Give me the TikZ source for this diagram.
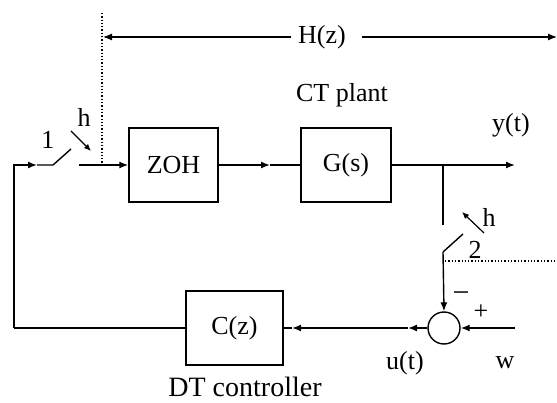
\documentclass[tikz,border=0pt]{standalone}
\usepackage{fontspec}
\setmainfont{Liberation Serif}
\usetikzlibrary{arrows.meta}

\begin{document}
\begin{tikzpicture}[x=1pt, y=-1pt, line width=1.4pt,
    >={Latex[length=9pt,width=7pt]},
    block/.style={draw, minimum width=#1, minimum height=74pt, inner sep=0pt, font=\fontsize{26}{30}\selectfont},
    lbl/.style={inner sep=0pt, font=\fontsize{26}{30}\selectfont},
    sumnode/.style={draw, circle, minimum size=32pt, inner sep=0pt}]

    % Fix the margins
    \useasboundingbox (0,0) rectangle (557,403);

    % Blocks
    \node[block=89pt] (zoh) at (173.5,165) {ZOH};
    \node[block=90pt] (plant) at (346,165) {G(s)};
    \node[block=97pt] (ctrl) at (234.5,328) {C(z)};
    \node[sumnode] (sum) at (444,328) {};

    % Corner points and switches
    \coordinate (bl) at (14,328);
    \coordinate (tl) at (14,165);
    \coordinate (sw1a) at (53,165);
    \coordinate (sw1b) at (71,149);
    \coordinate (sw1c) at (79,165);
    \coordinate (branch) at (443,165);
    \coordinate (yout) at (515,165);
    \coordinate (sw2a) at (443,225);
    \coordinate (sw2b) at (463,234);
    \coordinate (sw2c) at (443,252);
    \coordinate (win) at (515,328);

    % Feedback path to switch 1
    \draw (ctrl.west) -- (bl);
    \draw[->] (bl) -- (tl) -- (37,165);
    \draw (37,165) -- (sw1a) -- (sw1b);
    \draw[->] (sw1c) -- (zoh.west);
    \draw[->] (zoh.east) -- (270,165);
    \draw (270,165) -- (plant.west);

    % Output and sampler 2
    \draw[->] (plant.east) -- (yout);
    \draw (branch) -- (sw2a);
    \draw (sw2b) -- (sw2c);
    \draw[->] (sw2c) -- (sum.north);
    \draw[->] (win) -- (sum.east);
    \draw[->] (sum.west) -- (408,328);
    \draw[->] (408,328) -- (292,328);
    \draw (292,328) -- (ctrl.east);

    % Sampler arrows
    \draw[->, line width=1.2pt, >={Latex[length=7pt,width=6pt]}] (71,131) -- (91,151);
    \draw[->, line width=1.2pt, >={Latex[length=7pt,width=6pt]}] (484,233) -- (462,212);

    % Dotted borders of H(z)
    \draw[dotted, line width=1.3pt] (102,13) -- (102,165);
    \draw[dotted, line width=1.3pt] (445,261) -- (557,261);

    % H(z) span
    \node[lbl] (hz) at (322,37) {H(z)};
    \draw[->, line width=1.2pt] (hz.west) ++(-6,0) -- (103,37);
    \draw[->, line width=1.2pt] (362,37) -- (557,37);

    % Labels
    \node[lbl] (one) at (48,140) {1};
    \node[lbl] (h1) at (84,117) {h};
    \node[lbl] (plantlbl) at (342,95) {CT plant};
    \node[lbl] (ylbl) at (511,125) {y(t)};
    \node[lbl] (h2) at (489,217) {h};
    \node[lbl] (two) at (475,250) {2};
    \node[lbl, font=\fontsize{30}{30}\selectfont] (minus) at (461,297) {−};
    \node[lbl] (plus) at (481,312) {+};
    \node[lbl] (ulbl) at (405,363) {u(t)};
    \node[lbl] (wlbl) at (505,363) {w};
    \node[lbl, font=\fontsize{28}{30}\selectfont] (ctrllbl) at (245,387) {DT controller};

\end{tikzpicture}
\end{document}
